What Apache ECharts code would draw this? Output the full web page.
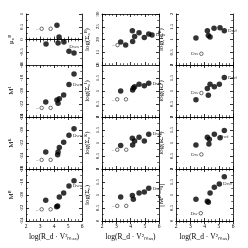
<!DOCTYPE html>
<html><head><meta charset="utf-8">
<script src="https://cdn.jsdelivr.net/npm/echarts@6/dist/echarts.min.js"></script>
<style>html,body{margin:0;background:#fff}#c{width:248px;height:248px}</style>
</head><body><div id="c"></div>
<script>
// x values (log scale quantity) for filled points, per panel
const fx11=[4.21,4.36,3.43,4.29,4.71,5.07,5.43], fy11=[0.56,0.10,-0.18,-0.14,-0.10,-0.46,-0.53];
const fx12=[4.13,4.60,4.29,4.97,5.28,5.51,3.31,3.66,4.15], fy12=[23.4,22.6,21.2,20.8,22.2,21.8,19.0,17.8,19.2];
const fx13=[3.40,4.20,4.27,4.39,4.67,5.09,5.39], fy13=[1.06,1.34,1.16,1.10,1.44,1.46,1.34];
const fx21=[5.43,5.07,4.69,4.38,4.21,4.29,3.41], fy21=[-17.4,-19.0,-20.6,-21.2,-21.4,-21.9,-21.7];
const fx22=[3.31,4.20,4.29,4.15,4.60,4.97,5.28], fy22=[1.00,1.12,1.16,1.04,1.26,1.20,1.30];
const fx23=[3.40,4.20,4.39,4.69,5.04,5.39,4.27], fy23=[0.66,1.10,1.26,1.16,1.26,1.52,0.84];
const fx31=[5.43,5.07,4.69,4.38,4.29,4.26,3.41], fy31=[-19.8,-20.8,-21.9,-22.7,-23.4,-23.8,-23.4];
const fx32=[3.31,4.13,4.29,4.15,4.60,4.97,5.28], fy32=[0.90,1.18,1.08,0.92,1.22,1.08,1.34];
const fx33=[3.40,4.20,4.34,4.69,5.09,5.39,4.31], fy33=[0.92,1.22,1.14,1.34,1.20,1.48,0.96];
const fx41=[5.43,5.07,4.69,4.38,4.26,4.19,3.41], fy41=[-17.8,-18.6,-19.7,-20.3,-21.7,-21.8,-20.8];
const fx42=[3.31,4.13,4.20,4.60,4.97,5.28], fy42=[0.92,0.98,0.84,1.08,1.12,1.26];
const fx43=[3.40,4.20,4.27,4.39,4.69,5.04,5.39], fy43=[0.84,0.76,0.72,1.08,1.30,1.42,1.70];
// open points
const ox11=[3.12,3.76], oy11=[0.42,0.42];
const ox12=[3.09], oy12=[17.8];
const ox13=[3.78], oy13=[0.44];
const ox21=[3.12,3.76], oy21=[-22.6,-22.6];
const ox22=[3.07,3.68], oy22=[0.68,0.68];
const ox23=[3.78], oy23=[0.92];
const ox31=[3.12,3.76], oy31=[-24.6,-24.6];
const ox32=[3.07,3.70], oy32=[0.74,0.74];
const ox33=[3.78], oy33=[0.56];
const ox41=[3.12,3.76], oy41=[-22.2,-22.2];
const ox42=[3.07,3.70], oy42=[0.58,0.58];
const ox43=[3.74], oy43=[0.30];
// y axis ranges [min,max,interval]
const yR=[[-1,1,0.5],[10,30,5],[0,2,0.5],[-24,-16,2],[0,2,0.5],[0,2,0.5],[-26,-18,2],[0,2,0.5],[0,2,0.5],[-24,-16,2],[0,2,0.5],[0,2,0.5]];
const yNames=['μ₀ᴮ','log(Σ₀ᴮ)','log(Rₑᴮ)','Mᴵ','log(Σ₀ᴵ)','log(Rₑᴵ)','Mᴷ','log(Σ₀ᴷ)','log(Rₑᴷ)','Mᴮ','log(Σ₀)','[Mᴮ − I]'];
const tagText=['Dwa','Dwa','Dwf','Dwa','Dwa','Dwf','Dwa','Dwa','Dwf','Dwa','Dwa','Dwf'];
const tagIdx=[6,5,6,1,6,5,1,6,5,1,5,5];
const tagPos=['top','right','right','right','right','right','right','right','bottom','right','right','right'];
const openTag=['–','–','Dw','–','–','Dw','–','–','Dw','–','–','Dw'];
const xName='log(R_d · V²ₘₐₓ)';

const FX=[fx11,fx12,fx13,fx21,fx22,fx23,fx31,fx32,fx33,fx41,fx42,fx43];
const FY=[fy11,fy12,fy13,fy21,fy22,fy23,fy31,fy32,fy33,fy41,fy42,fy43];
const OX=[ox11,ox12,ox13,ox21,ox22,ox23,ox31,ox32,ox33,ox41,ox42,ox43];
const OY=[oy11,oy12,oy13,oy21,oy22,oy23,oy31,oy32,oy33,oy41,oy42,oy43];

const lefts=[26,102,176], widths=[56,57,57], tops=[14,65,117,169], heights=[51,52,52,52];
const grid=[],xAxis=[],yAxis=[],series=[];
const line={show:true,lineStyle:{color:'#000',width:0.8}};
const serif='Liberation Serif';
for(let i=0;i<12;i++){
  const r=Math.floor(i/3),c=i%3;
  grid.push({left:lefts[c],top:tops[r],width:widths[c],height:heights[r]});
  const xb={gridIndex:i,type:'value',min:2,max:6,interval:1,axisLine:line,
    axisTick:{inside:true,length:3,lineStyle:{color:'#000',width:0.8}},
    minorTick:{show:true,splitNumber:4,length:1.8,lineStyle:{color:'#000',width:0.6}},
    splitLine:{show:false},
    axisLabel:{show:r===3,fontSize:5.5,color:'#000',margin:3,fontFamily:serif}};
  if(r===3){Object.assign(xb,{name:xName,nameLocation:'middle',nameGap:12,nameTextStyle:{fontSize:7.5,color:'#000',fontFamily:serif}});}
  xAxis.push(xb);
  xAxis.push(Object.assign({},xb,{position:'top',name:'',axisLabel:{show:false}}));
  const [mn,mx,iv]=yR[i];
  const yl={gridIndex:i,type:'value',min:mn,max:mx,interval:iv,axisLine:line,
    axisTick:{inside:true,length:3,lineStyle:{color:'#000',width:0.8}},
    minorTick:{show:true,splitNumber:2,length:1.8,lineStyle:{color:'#000',width:0.6}},
    splitLine:{show:false},
    axisLabel:{show:true,rotate:90,fontSize:5,color:'#000',margin:2,fontFamily:serif},
    name:yNames[i],nameLocation:'middle',nameGap:11,nameRotate:90,
    nameTextStyle:{fontSize:7,color:'#000',fontFamily:serif}};
  yAxis.push(yl);
  yAxis.push(Object.assign({},yl,{position:'right',name:'',axisLabel:{show:false}}));
  const fdata=FX[i].map((x,k)=>{
    const d={value:[x,FY[i][k]]};
    if(k===tagIdx[i]) d.label={show:true,formatter:tagText[i],position:tagPos[i],distance:1,fontSize:5,color:'#000',fontFamily:serif};
    return d;});
  series.push({type:'scatter',xAxisIndex:2*i,yAxisIndex:2*i,symbolSize:5.5,
    itemStyle:{color:'#000'},data:fdata,silent:true});
  const odata=OX[i].map((x,k)=>{
    const d={value:[x,OY[i][k]]};
    if(k===0) d.label={show:true,formatter:openTag[i],position:'left',distance:1,fontSize:5,color:'#000',fontFamily:serif};
    return d;});
  series.push({type:'scatter',xAxisIndex:2*i,yAxisIndex:2*i,symbolSize:3.5,symbol:'circle',
    itemStyle:{color:'#fff',borderColor:'#000',borderWidth:0.7},data:odata,silent:true});
}
const chart=echarts.init(document.getElementById('c'),null,{renderer:'canvas'});
chart.setOption({backgroundColor:'#fff',animation:false,grid,xAxis,yAxis,series});
</script></body></html>
